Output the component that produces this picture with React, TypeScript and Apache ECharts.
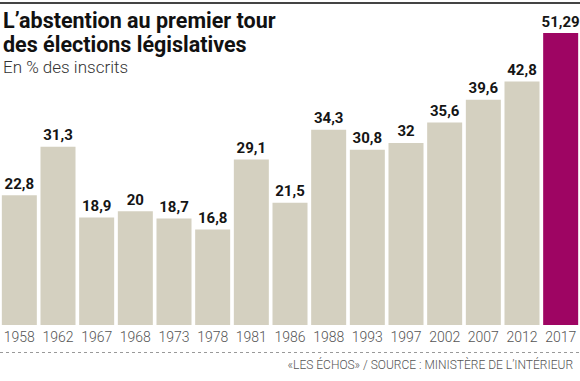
import React, { useEffect, useRef } from "react";
import * as echarts from "echarts";

const years = ["1958", "1962", "1967", "1968", "1973", "1978", "1981", "1986", "1988", "1993", "1997", "2002", "2007", "2012", "2017"];
const abstention = [22.8, 31.3, 18.9, 20, 18.7, 16.8, 29.1, 21.5, 34.3, 30.8, 32, 35.6, 39.6, 42.8, 51.29];
const titleLines = ["L’abstention au premier tour", "des élections législatives"];
const subtitle = "En % des inscrits";
const sourceText = "«LES ÉCHOS» / SOURCE : MINISTÈRE DE L’INTÉRIEUR";

const BAR = "#d4d0c0";
const HIGHLIGHT = "#9e0563";
const FONT = "Roboto, 'Noto Sans', sans-serif";

export default function App() {
  const ref = useRef<HTMLDivElement>(null);
  useEffect(() => {
    if (!ref.current) return;
    const chart = echarts.init(ref.current, null, { renderer: "svg" });
    const last = abstention.length - 1;
    chart.setOption({
      animation: false,
      backgroundColor: "#ffffff",
      grid: { left: 0, right: 0, top: 12, bottom: 56, containLabel: false },
      xAxis: {
        type: "category",
        data: years,
        axisLine: { show: false },
        axisTick: { show: false },
        axisLabel: {
          interval: 0,
          margin: 5,
          fontFamily: FONT,
          fontSize: 14,
          fontWeight: 300,
          color: "#555555",
        },
      },
      yAxis: {
        type: "value",
        min: 0,
        max: 55,
        show: false,
        splitLine: { show: false },
      },
      series: [
        {
          type: "bar",
          barWidth: 35,
          data: abstention.map((v, i) => ({
            value: v,
            itemStyle: { color: i === last ? HIGHLIGHT : BAR },
          })),
          label: {
            show: true,
            position: "top",
            distance: 4,
            fontFamily: FONT,
            fontSize: 15,
            fontWeight: "bold",
            color: "#151515",
            formatter: (p: any) => String(p.value).replace(".", ","),
          },
        },
      ],
      graphic: [
        {
          type: "line",
          shape: { x1: 0, y1: 3, x2: 580, y2: 3 },
          style: { stroke: "#444444", lineWidth: 2 },
        },
        {
          type: "text",
          left: 3,
          top: 8,
          style: {
            text: titleLines.join("\n"),
            fontFamily: FONT,
            fontSize: 21.5,
            fontWeight: "bold",
            lineHeight: 24,
            fill: "#111111",
          },
        },
        {
          type: "text",
          left: 3,
          top: 58,
          style: {
            text: subtitle,
            fontFamily: FONT,
            fontSize: 17,
            fontWeight: 300,
            fill: "#333333",
          },
        },
        {
          type: "line",
          shape: { x1: 0, y1: 352.5, x2: 580, y2: 352.5 },
          style: { stroke: "#999999", lineWidth: 1, lineDash: [3, 3] },
        },
        {
          type: "text",
          right: 7,
          top: 359,
          style: {
            text: sourceText,
            fontFamily: FONT,
            fontSize: 12,
            fontWeight: 300,
            fill: "#555555",
          },
        },
      ],
    });
    return () => chart.dispose();
  }, []);
  return <div ref={ref} style={{ width: 580, height: 381, position: "absolute", left: 0, top: 0 }} />;
}
